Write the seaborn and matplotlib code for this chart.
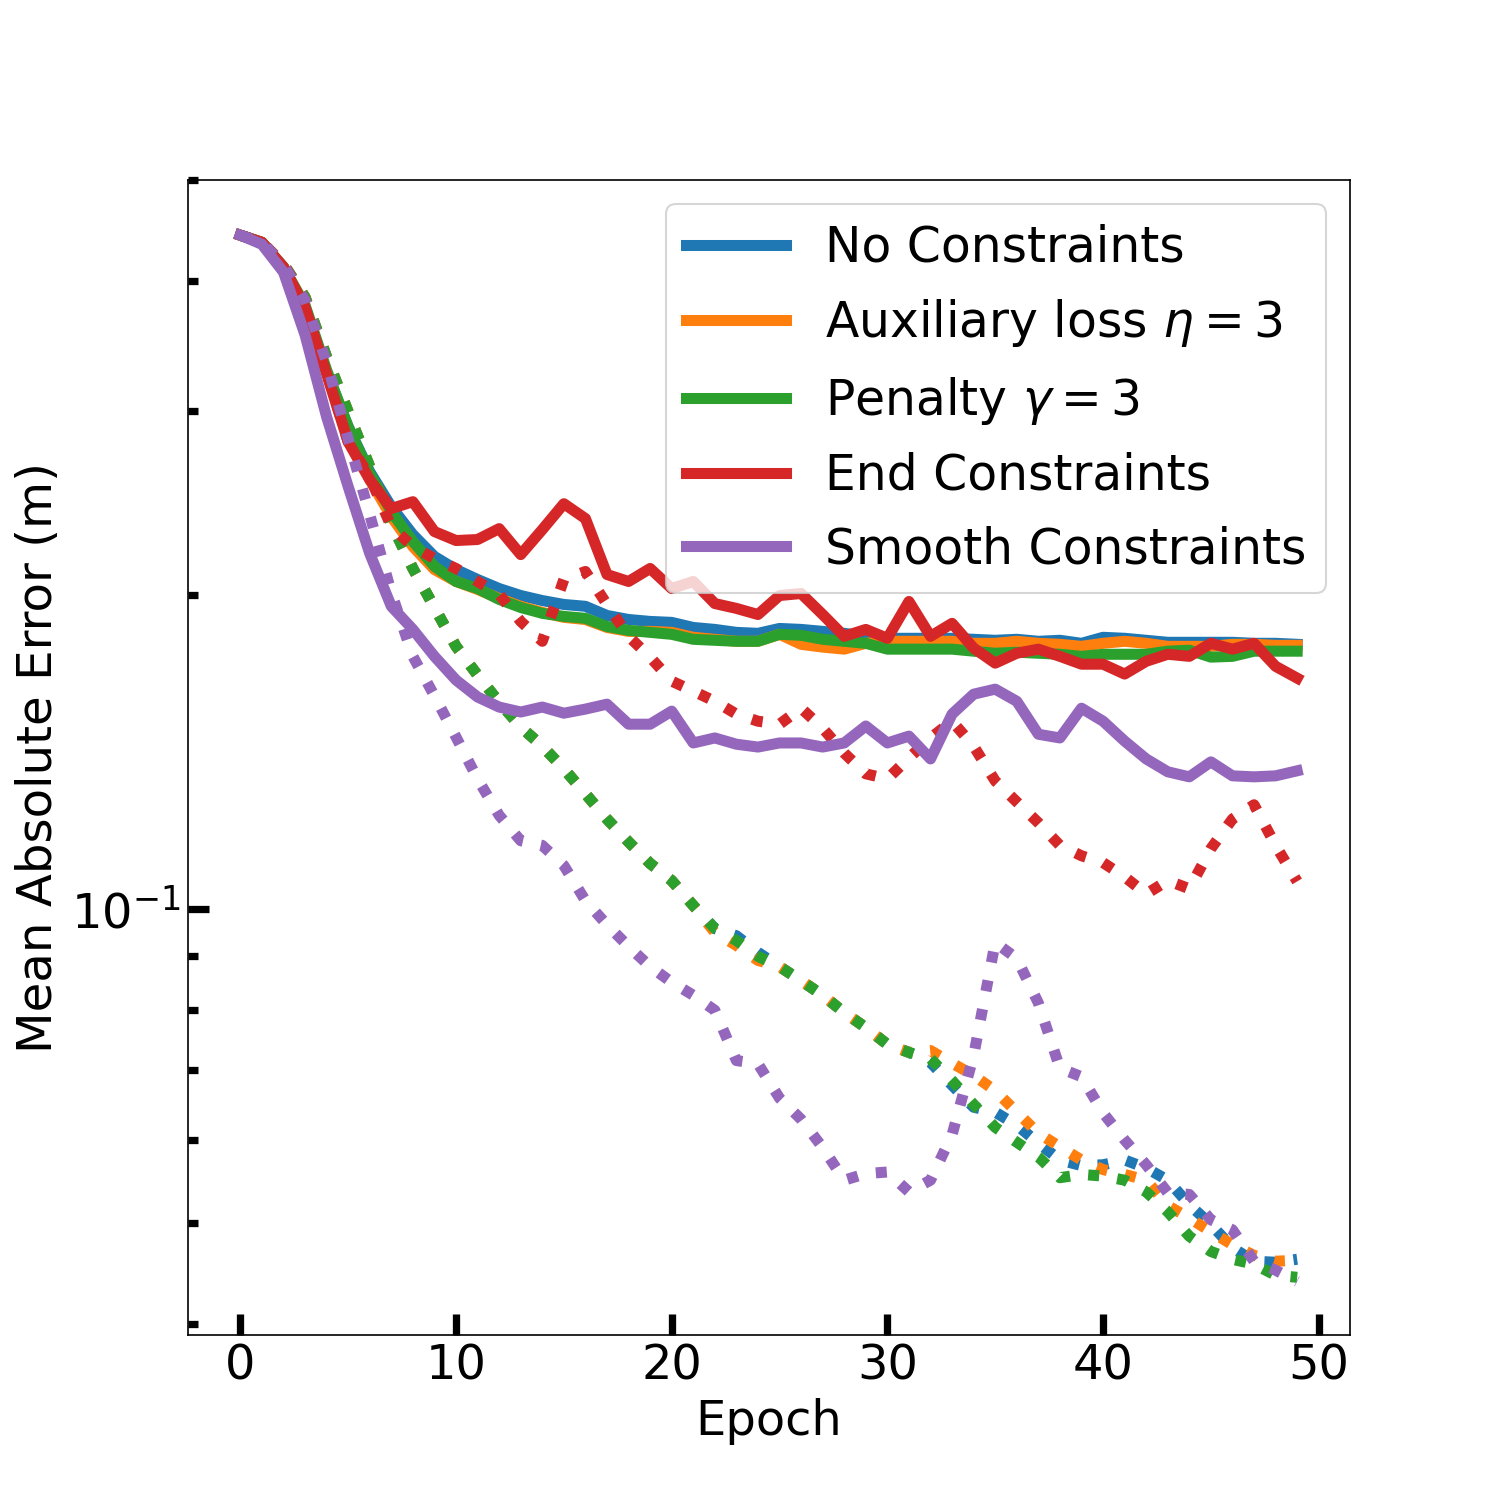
import matplotlib
matplotlib.use("Agg")
import matplotlib.pyplot as plt
from matplotlib.ticker import NullFormatter, FixedLocator
import seaborn as sns
import pandas as pd

epochs = list(range(50))

labels = ["No Constraints", r"Auxiliary loss $\eta = 3$", r"Penalty $\gamma = 3$",
          "End Constraints", "Smooth Constraints"]
colors = ["#1f77b4", "#ff7f0e", "#2ca02c", "#d62728", "#9467bd"]

# training error (solid)
no_constraints_train = [0.4426, 0.4357, 0.4125, 0.3776, 0.3272, 0.2899, 0.2625, 0.2430, 0.2285, 0.2177,
                        0.2115, 0.2069, 0.2028, 0.1997, 0.1975, 0.1958, 0.1950, 0.1911, 0.1894, 0.1886,
                        0.1882, 0.1861, 0.1853, 0.1841, 0.1837, 0.1857, 0.1853, 0.1845, 0.1837, 0.1825,
                        0.1817, 0.1817, 0.1817, 0.1817, 0.1813, 0.1809, 0.1813, 0.1805, 0.1809, 0.1797,
                        0.1821, 0.1817, 0.1809, 0.1801, 0.1801, 0.1801, 0.1801, 0.1797, 0.1797, 0.1793]
auxiliary_train = [0.4426, 0.4357, 0.4125, 0.3776, 0.3272, 0.2880, 0.2579, 0.2377, 0.2225, 0.2115,
                   0.2060, 0.2024, 0.1984, 0.1950, 0.1924, 0.1903, 0.1894, 0.1861, 0.1845, 0.1845,
                   0.1841, 0.1821, 0.1813, 0.1805, 0.1805, 0.1833, 0.1793, 0.1782, 0.1774, 0.1797,
                   0.1805, 0.1805, 0.1805, 0.1805, 0.1797, 0.1797, 0.1805, 0.1797, 0.1793, 0.1785,
                   0.1797, 0.1805, 0.1797, 0.1785, 0.1785, 0.1785, 0.1793, 0.1793, 0.1789, 0.1789]
penalty_train = [0.4426, 0.4357, 0.4125, 0.3793, 0.3286, 0.2899, 0.2614, 0.2404, 0.2250, 0.2130,
                 0.2060, 0.2028, 0.1980, 0.1945, 0.1920, 0.1907, 0.1899, 0.1865, 0.1849, 0.1841,
                 0.1833, 0.1813, 0.1809, 0.1805, 0.1805, 0.1833, 0.1829, 0.1813, 0.1805, 0.1797,
                 0.1774, 0.1774, 0.1774, 0.1774, 0.1766, 0.1758, 0.1762, 0.1758, 0.1754, 0.1746,
                 0.1754, 0.1754, 0.1754, 0.1766, 0.1770, 0.1743, 0.1746, 0.1766, 0.1766, 0.1766]
end_train = [0.4426, 0.4357, 0.4125, 0.3776, 0.3258, 0.2804, 0.2579, 0.2420, 0.2457, 0.2300,
             0.2255, 0.2260, 0.2315, 0.2186, 0.2310, 0.2446, 0.2367, 0.2092, 0.2060, 0.2120,
             0.2028, 0.2060, 0.1962, 0.1941, 0.1915, 0.1997, 0.2006, 0.1915, 0.1825, 0.1853,
             0.1817, 0.1971, 0.1825, 0.1878, 0.1778, 0.1720, 0.1758, 0.1774, 0.1746, 0.1716,
             0.1716, 0.1679, 0.1727, 0.1754, 0.1746, 0.1797, 0.1774, 0.1797, 0.1708, 0.1664]
smooth_train = [0.4426, 0.4338, 0.4080, 0.3551, 0.2963, 0.2540, 0.2191, 0.1950, 0.1853, 0.1746,
                0.1657, 0.1596, 0.1561, 0.1544, 0.1561, 0.1540, 0.1554, 0.1571, 0.1503, 0.1503,
                0.1547, 0.1442, 0.1458, 0.1438, 0.1429, 0.1442, 0.1442, 0.1429, 0.1442, 0.1497,
                0.1442, 0.1464, 0.1392, 0.1537, 0.1606, 0.1624, 0.1581, 0.1470, 0.1458, 0.1557,
                0.1513, 0.1448, 0.1392, 0.1353, 0.1338, 0.1383, 0.1341, 0.1338, 0.1341, 0.1356]

# validation error (dotted)
no_constraints_val = [0.4426, 0.4357, 0.4153, 0.3860, 0.3382, 0.2996, 0.2654, 0.2341, 0.2120, 0.1945,
                      0.1785, 0.1675, 0.1578, 0.1494, 0.1432, 0.1362, 0.1289, 0.1219, 0.1159, 0.1105,
                      0.1064, 0.1007, 0.0957, 0.0942, 0.0908, 0.0880, 0.0853, 0.0826, 0.0795, 0.0769,
                      0.0741, 0.0728, 0.0712, 0.0677, 0.0645, 0.0638, 0.0620, 0.0596, 0.0574, 0.0567,
                      0.0568, 0.0574, 0.0564, 0.0549, 0.0520, 0.0498, 0.0473, 0.0459, 0.0458, 0.0461]
auxiliary_val = [0.4426, 0.4357, 0.4153, 0.3860, 0.3382, 0.2996, 0.2654, 0.2341, 0.2120, 0.1945,
                 0.1785, 0.1675, 0.1578, 0.1494, 0.1432, 0.1362, 0.1289, 0.1219, 0.1159, 0.1105,
                 0.1064, 0.1007, 0.0949, 0.0922, 0.0892, 0.0880, 0.0853, 0.0826, 0.0795, 0.0769,
                 0.0741, 0.0728, 0.0731, 0.0711, 0.0692, 0.0669, 0.0638, 0.0609, 0.0591, 0.0574,
                 0.0562, 0.0556, 0.0549, 0.0519, 0.0505, 0.0490, 0.0476, 0.0465, 0.0459, 0.0460]
penalty_val = [0.4426, 0.4357, 0.4153, 0.3860, 0.3382, 0.2996, 0.2654, 0.2341, 0.2120, 0.1945,
               0.1785, 0.1675, 0.1578, 0.1494, 0.1432, 0.1362, 0.1289, 0.1219, 0.1159, 0.1105,
               0.1064, 0.1007, 0.0957, 0.0932, 0.0900, 0.0880, 0.0853, 0.0826, 0.0795, 0.0769,
               0.0741, 0.0728, 0.0718, 0.0684, 0.0649, 0.0617, 0.0597, 0.0578, 0.0552, 0.0556,
               0.0554, 0.0549, 0.0535, 0.0512, 0.0485, 0.0469, 0.0461, 0.0456, 0.0445, 0.0443]
end_val = [0.4426, 0.4357, 0.4153, 0.3834, 0.3272, 0.2804, 0.2596, 0.2325, 0.2225, 0.2167,
           0.2120, 0.2060, 0.2002, 0.1886, 0.1805, 0.2069, 0.2106, 0.1958, 0.1825, 0.1743,
           0.1653, 0.1617, 0.1581, 0.1537, 0.1513, 0.1503, 0.1557, 0.1490, 0.1410, 0.1347,
           0.1332, 0.1395, 0.1458, 0.1513, 0.1432, 0.1326, 0.1266, 0.1209, 0.1150, 0.1124,
           0.1107, 0.1073, 0.1033, 0.1064, 0.1045, 0.1142, 0.1219, 0.1258, 0.1150, 0.1062]
smooth_val = [0.4426, 0.4357, 0.4144, 0.3834, 0.3345, 0.2823, 0.2388, 0.2010, 0.1746, 0.1600,
              0.1461, 0.1332, 0.1229, 0.1162, 0.1150, 0.1100, 0.1018, 0.0965, 0.0920, 0.0880,
              0.0850, 0.0826, 0.0799, 0.0715, 0.0710, 0.0658, 0.0628, 0.0590, 0.0549, 0.0557,
              0.0559, 0.0535, 0.0549, 0.0607, 0.0723, 0.0928, 0.0896, 0.0812, 0.0703, 0.0690,
              0.0637, 0.0600, 0.0568, 0.0534, 0.0532, 0.0503, 0.0492, 0.0459, 0.0450, 0.0439]

x_ticks = [0, 10, 20, 30, 40, 50]
y_major = [0.1]
y_minor = [0.04, 0.05, 0.06, 0.07, 0.08, 0.09, 0.2, 0.3, 0.4, 0.5]

train_series = [no_constraints_train, auxiliary_train, penalty_train, end_train, smooth_train]
val_series = [no_constraints_val, auxiliary_val, penalty_val, end_val, smooth_val]

fig, ax = plt.subplots(figsize=(10, 10), dpi=150)
fig.subplots_adjust(left=0.125, right=0.9, bottom=0.11, top=0.88)

LW = 5.3
for lab, col, tr, va in zip(labels, colors, train_series, val_series):
    df = pd.DataFrame({"epoch": epochs, "train": tr, "val": va})
    sns.lineplot(data=df, x="epoch", y="train", color=col, linewidth=LW,
                 label=lab, ax=ax)
    sns.lineplot(data=df, x="epoch", y="val", color=col, linewidth=LW,
                 linestyle=":", ax=ax)

ax.set_yscale("log")
ax.set_ylim(0.039, 0.5)
ax.yaxis.set_major_locator(FixedLocator(y_major))
ax.yaxis.set_minor_locator(FixedLocator(y_minor))
ax.yaxis.set_minor_formatter(NullFormatter())
ax.set_xticks(x_ticks)

ax.tick_params(axis="both", which="major", direction="in", length=10, width=3.5,
               labelsize=23)
ax.tick_params(axis="y", which="minor", direction="in", length=5, width=3.5)

ax.set_xlabel("Epoch", fontsize=23)
ax.set_ylabel("Mean Absolute Error (m)", fontsize=23.2)

ax.legend(loc="upper right", fontsize=23.4, labelspacing=0.52, handlelength=2.05)

fig.savefig("out.png", dpi=150)
